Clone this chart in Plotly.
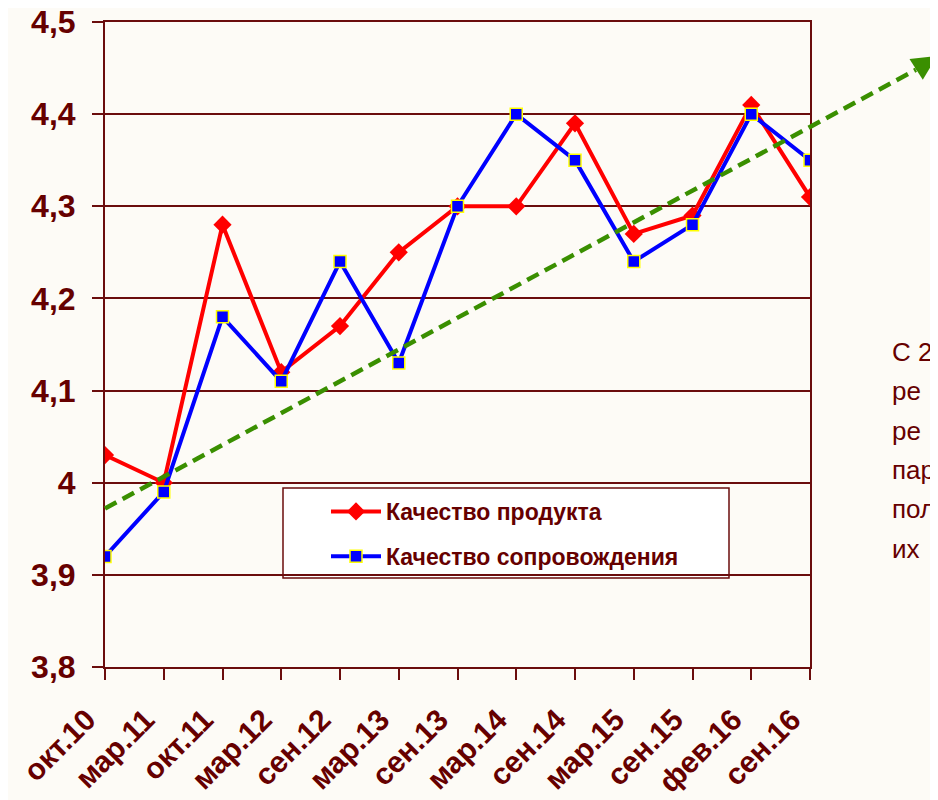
import math
import plotly.graph_objects as go

categories = ["окт.10", "мар.11", "окт.11", "мар.12", "сен.12", "мар.13", "сен.13",
              "мар.14", "сен.14", "мар.15", "сен.15", "фев.16", "сен.16"]
product_quality = [4.03, 4.00, 4.28, 4.12, 4.17, 4.25, 4.30, 4.30, 4.39, 4.27, 4.29, 4.41, 4.31]
support_quality = [3.92, 3.99, 4.18, 4.11, 4.24, 4.13, 4.30, 4.40, 4.35, 4.24, 4.28, 4.40, 4.35]
trend_x = [0.0, 14.23]      # in category-index units
trend_y = [3.972, 4.463]
y_ticks = [3.8, 3.9, 4.0, 4.1, 4.2, 4.3, 4.4, 4.5]
y_tick_labels = ["3,8", "3,9", "4", "4,1", "4,2", "4,3", "4,4", "4,5"]
side_text = ["С 2", "ре", "ре", "пар", "пол", "их"]

DARK = "#660000"
GRID = "#6B0D0D"
BG = "#FDFBF6"
FONT = "Liberation Sans, Arial, sans-serif"

# page has an 8px body margin; size the figure so it ends at the window edge
W, H = 930, 792
ML, MR, MT, MB = 97, 128, 14, 133
PW, PH = W - ML - MR, H - MT - MB
OFF = 8


def px_x(xpix):
    return (xpix - OFF - ML) / PW


def px_y(ypix):
    return (H - MB - (ypix - OFF)) / PH


X_RANGE = [0, len(categories) - 1]
Y_RANGE = [3.8, 4.5]


def to_paper(xv, yv):
    px = (xv - X_RANGE[0]) / (X_RANGE[1] - X_RANGE[0])
    py = (yv - Y_RANGE[0]) / (Y_RANGE[1] - Y_RANGE[0])
    return px, py


fig = go.Figure()

fig.add_trace(go.Scatter(
    x=categories, y=product_quality, mode="lines+markers", name="Качество продукта",
    line=dict(color="#FF0000", width=4),
    marker=dict(symbol="diamond", size=14, color="#FF0000"),
    legendgroup="a",
))
fig.add_trace(go.Scatter(
    x=categories, y=support_quality, mode="lines+markers", name="Качество сопровождения",
    line=dict(color="#0000FF", width=4),
    marker=dict(symbol="square", size=12, color="#0000FF", line=dict(color="#FFFF00", width=1.5)),
    legendgroup="b",
))

# trend line (dashed) extending beyond the plot area, with an arrow head
x0p, y0p = to_paper(trend_x[0], trend_y[0])
x1p, y1p = to_paper(trend_x[1], trend_y[1])
t = 0.97
xmp, ymp = x0p + (x1p - x0p) * t, y0p + (y1p - y0p) * t
fig.add_shape(type="line", xref="paper", yref="paper", x0=x0p, y0=y0p, x1=xmp, y1=ymp,
              line=dict(color="#3A8F00", width=4.5, dash="13px,7px"), layer="above")
dxp = -(x1p - x0p) * PW
dyp = (y1p - y0p) * PH
L = math.hypot(dxp, dyp)
fig.add_annotation(xref="paper", yref="paper", x=x1p, y=y1p, axref="pixel", ayref="pixel",
                   ax=dxp / L * 30, ay=dyp / L * 30,
                   showarrow=True, arrowhead=2, arrowsize=1.1, arrowwidth=4.5,
                   arrowcolor="#3A8F00", text="", standoff=0)

# legend box
fig.add_shape(type="rect", xref="paper", yref="paper",
              x0=px_x(283), x1=px_x(729), y0=px_y(578), y1=px_y(488),
              line=dict(color=GRID, width=1.5), fillcolor="#FFFFFF", layer="below")

# side text
for i, line in enumerate(side_text):
    fig.add_annotation(xref="paper", yref="paper", x=px_x(890),
                       y=px_y(352 + i * 39.3), xanchor="left", yanchor="middle",
                       text=line, showarrow=False,
                       font=dict(family=FONT, size=26, color=DARK))

fig.update_layout(
    width=W, height=H,
    margin=dict(l=ML, r=MR, t=MT, b=MB),
    paper_bgcolor=BG, plot_bgcolor=BG,
    showlegend=True,
    legend=dict(x=px_x(326), y=px_y(490), xanchor="left", yanchor="top",
                bgcolor="rgba(0,0,0,0)", borderwidth=0, itemwidth=50,
                tracegroupgap=12,
                font=dict(family=FONT, size=23, color=DARK, weight="bold")),
    xaxis=dict(range=X_RANGE, type="category", showgrid=False, showline=True,
               linecolor=GRID, linewidth=2, mirror=True, automargin=False,
               ticks="outside", ticklen=11, tickwidth=2, tickcolor=GRID,
               ticklabelstandoff=10, ticklabelshift=-18, ticklabeloverflow="allow",
               tickangle=-45, tickfont=dict(family=FONT, size=30, color=DARK, weight="bold")),
    yaxis=dict(range=Y_RANGE, tickvals=y_ticks, ticktext=y_tick_labels,
               showgrid=True, gridcolor=GRID, gridwidth=1.5, showline=True,
               linecolor=GRID, linewidth=2, mirror=True, zeroline=False, automargin=False,
               ticks="outside", ticklen=11, tickwidth=2, tickcolor=GRID,
               ticklabelstandoff=10, ticklabeloverflow="allow",
               tickfont=dict(family=FONT, size=32, color=DARK, weight="bold")),
)

fig.write_html("out.html")
